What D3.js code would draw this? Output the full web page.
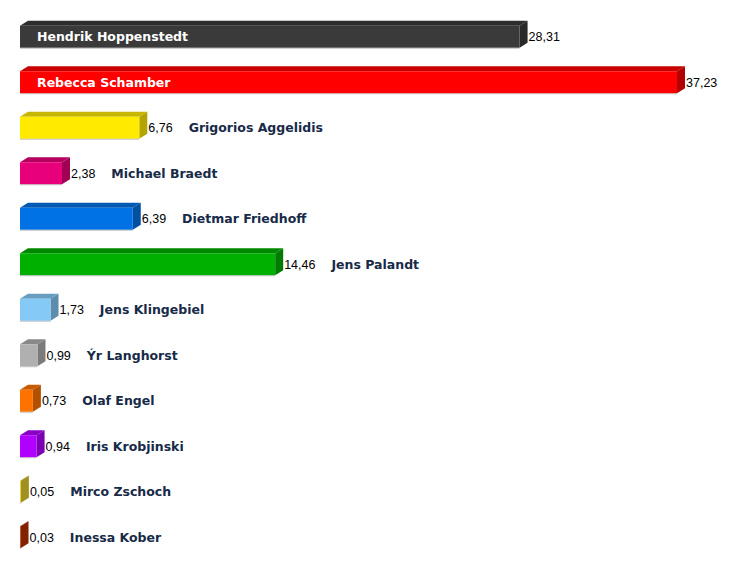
<!DOCTYPE html>
<html>
<head>
<meta charset="utf-8">
<script src="https://cdn.jsdelivr.net/npm/d3@7"></script>
<style>
  body { margin: 0; background: #fff; }
  .val { font-family: 'Liberation Sans', Arial, sans-serif; font-size: 12.5px; fill: #000; }
  .name { font-family: 'DejaVu Sans', Verdana, sans-serif; font-weight: bold; font-size: 12.5px; fill: #172a47; }
</style>
</head>
<body>
<svg id="chart" width="750" height="570"></svg>
<script>
const names = ['Hendrik Hoppenstedt', 'Rebecca Schamber', 'Grigorios Aggelidis', 'Michael Braedt',
  'Dietmar Friedhoff', 'Jens Palandt', 'Jens Klingebiel', 'Ýr Langhorst', 'Olaf Engel',
  'Iris Krobjinski', 'Mirco Zschoch', 'Inessa Kober']
const values = [28.31, 37.23, 6.76, 2.38, 6.39, 14.46, 1.73, 0.99, 0.73, 0.94, 0.05, 0.03]
const colors = ['#3a3a3a', '#ff0000', '#ffea00', '#e8007a', '#0072e6', '#00b000',
  '#85c9f7', '#b0b0b0', '#ff7200', '#b000ff', '#e8cc30', '#b83000']
const insideLabel = [true, true, false, false, false, false, false, false, false, false, false, false]

const svg = d3.select('#chart')
const fmt = v => d3.format('.2f')(v).replace('.', ',')

const x = d3.scaleLinear().domain([0, 37.23]).range([20, 677])
const y = d3.scaleBand().domain(names).range([14, 560])

const barH = 22
const dx = 8
const dy = 5

const rows = svg.selectAll('g.row').data(names).enter()
  .append('g').attr('class', 'row')
  .attr('transform', d => `translate(0,${y(d) + y.bandwidth() / 2 - barH / 2})`)

rows.each(function (d, i) {
  const g = d3.select(this)
  const x0 = x(0)
  const x1 = x(values[i])
  const c = d3.rgb(colors[i])

  // top face
  g.append('path')
    .attr('d', `M${x0},0 L${x0 + dx},${-dy} L${x1 + dx},${-dy} L${x1},0 Z`)
    .attr('fill', c.darker(0.7))
  // side face
  g.append('path')
    .attr('d', `M${x1},0 L${x1 + dx},${-dy} L${x1 + dx},${barH - dy} L${x1},${barH} Z`)
    .attr('fill', c.darker(1.0))
  // front face
  g.append('rect')
    .attr('x', x0).attr('y', 0)
    .attr('width', x1 - x0).attr('height', barH)
    .attr('fill', c)
  g.append('line')
    .attr('x1', x0).attr('x2', x1).attr('y1', barH + 0.5).attr('y2', barH + 0.5)
    .attr('stroke', '#999').attr('stroke-opacity', 0.6)

  const val = g.append('text').attr('class', 'val')
    .attr('x', x1 + dx + 1).attr('y', barH / 2).attr('dy', '0.36em')
    .text(fmt(values[i]))

  if (insideLabel[i]) {
    g.append('text').attr('class', 'name')
      .attr('x', x0 + 17).attr('y', barH / 2).attr('dy', '0.36em')
      .style('fill', '#fff')
      .text(d)
  } else {
    const w = val.node().getComputedTextLength()
    g.append('text').attr('class', 'name')
      .attr('x', x1 + dx + 1 + w + 16).attr('y', barH / 2).attr('dy', '0.36em')
      .text(d)
  }
})
</script>
</body>
</html>
